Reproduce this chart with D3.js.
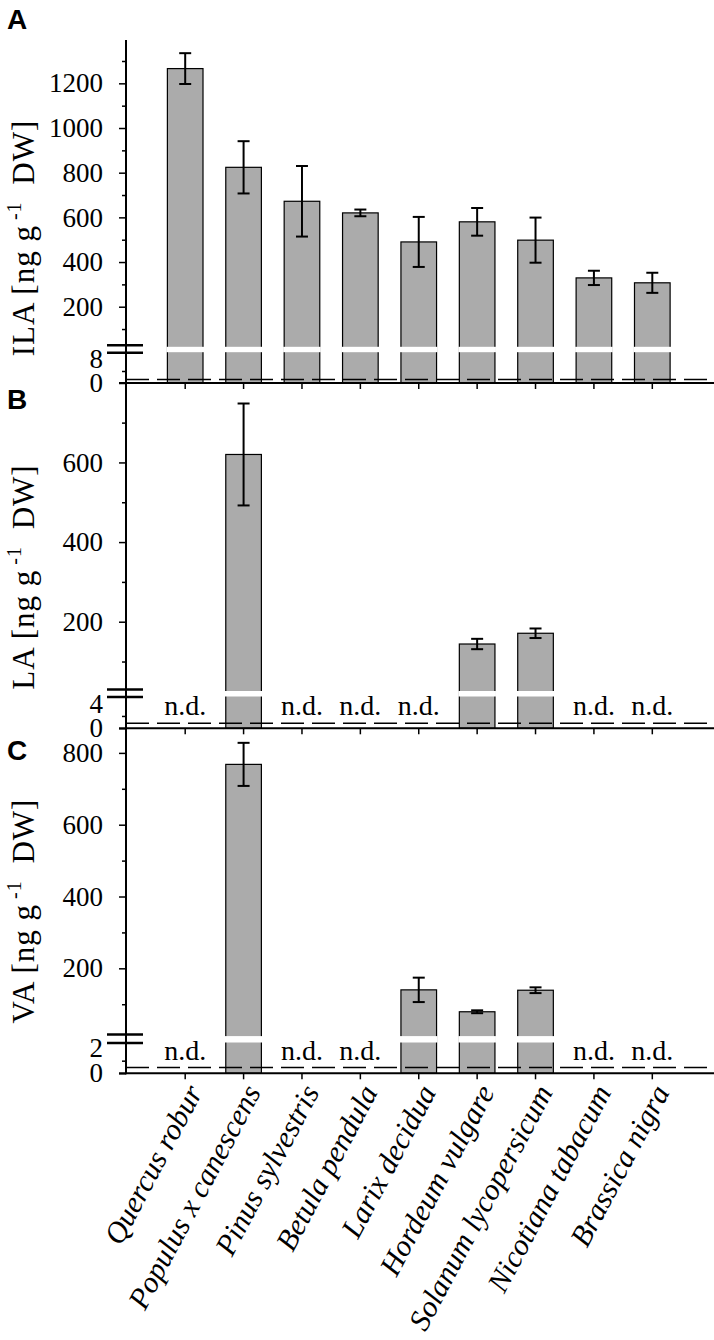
<!DOCTYPE html>
<html><head><meta charset="utf-8">
<script src="https://cdn.jsdelivr.net/npm/d3@7"></script>
<style>body{margin:0;background:#fff}svg{display:block}</style>
</head><body><svg id="c" width="714" height="1340"></svg>
<script>
// ---- data ----
const species = ["Quercus robur","Populus x canescens","Pinus sylvestris","Betula pendula","Larix decidua","Hordeum vulgare","Solanum lycopersicum","Nicotiana tabacum","Brassica nigra"];
const ilaMean = [1266, 824, 672, 620, 490, 580, 498, 329, 307];
const ilaErr  = [69, 117, 158, 15, 112, 62, 101, 32, 45];
const laMean  = [null, 620, null, null, null, 144, 171, null, null];
const laErr   = [null, 128, null, null, null, 13, 12, null, null];
const vaMean  = [null, 768, null, null, 140, 79, 139, null, null];
const vaErr   = [null, 60, null, null, 34, 4, 8, null, null];
const panelLetters = ["A","B","C"];
const compoundNames = ["ILA","LA","VA"];
const detectionLimits = [1.2, 0.8, 0.45];
const upperMajorTicks = [[200,400,600,800,1000,1200],[200,400,600],[200,400,600,800]];
const upperMinorTicks = [[100,300,500,700,900,1100,1300],[100,300,500,700],[100,300,500,700]];
const lowerLabelTicks = [[0,8],[0,4],[0,2]];
const lowerMinorTicks = [[4],[2],[1]];
const ndLabel = "n.d.";

// ---- layout ----
const panels = [
  {mean: ilaMean, err: ilaErr, upDom:[25,1394], upRange:[345.8,40], loDom:[0,10.1], loRange:[383,352.7], letterY:29, titleY:238},
  {mean: laMean, err: laErr, upDom:[28.5,800], upRange:[690,382.8], loDom:[0,5.07], loRange:[728.3,697], letterY:409, titleY:577},
  {mean: vaMean, err: vaErr, upDom:[14,871], upRange:[1035.1,727.4], loDom:[0,2.4], loRange:[1073.3,1043], letterY:760, titleY:911}
];
const AX = 126;
const serif = "'Liberation Serif','Times New Roman',serif";
const svg = d3.select("#c");

const x = d3.scaleBand().domain(species).range([156, 681.5]).paddingInner(0.39).paddingOuter(0.195);
const bw = x.bandwidth();

panels.forEach((p, pi) => {
  const up = d3.scaleLinear().domain(p.upDom).range(p.upRange);
  const lo = d3.scaleLinear().domain(p.loDom).range(p.loRange);
  const y0 = lo(0);
  const g = svg.append("g");
  const rows = species.map((s, i) => ({s, m: p.mean[i], e: p.err[i]}));

  // bars
  const bars = rows.filter(d => d.m != null);
  g.selectAll("rect.bar").data(bars).join("rect")
    .attr("x", d => x(d.s)).attr("width", bw)
    .attr("y", d => up(d.m)).attr("height", d => y0 - up(d.m))
    .attr("fill", "#ababab").attr("stroke", "#000").attr("stroke-width", 1.2);
  // break band in bars
  const bTop = p.upRange[0], bBot = p.loRange[1];
  g.selectAll("rect.brk").data(bars).join("rect")
    .attr("x", d => x(d.s) - 1).attr("width", bw + 2)
    .attr("y", bTop + 1).attr("height", bBot - bTop - 1.5)
    .attr("fill", "#fff");
  // error bars
  bars.forEach(d => {
    const cx = x(d.s) + bw / 2;
    const yt = up(d.m + d.e), yb = up(d.m - d.e);
    g.append("line").attr("x1", cx).attr("x2", cx).attr("y1", yt).attr("y2", yb).attr("stroke", "#000").attr("stroke-width", 2);
    [yt, yb].forEach(yy => g.append("line").attr("x1", cx - 6).attr("x2", cx + 6).attr("y1", yy).attr("y2", yy).attr("stroke", "#000").attr("stroke-width", 2));
  });
  // n.d.
  g.selectAll("text.nd").data(rows.filter(d => d.m == null)).join("text")
    .attr("x", d => x(d.s) + bw / 2).attr("y", y0 - 13)
    .attr("text-anchor", "middle").attr("font-family", serif).attr("font-size", 28)
    .text(ndLabel);
  // detection limit dashed line
  g.append("line").attr("x1", AX).attr("x2", 714).attr("y1", lo(detectionLimits[pi])).attr("y2", lo(detectionLimits[pi]))
    .attr("stroke", "#000").attr("stroke-width", 1.5).attr("stroke-dasharray", "23,8");

  // y axes (upper)
  const styleAxis = sel => {
    sel.select(".domain").remove();
    sel.selectAll(".tick line").attr("stroke", "#000").attr("stroke-width", 1.5);
    sel.selectAll(".tick text").attr("font-family", serif).attr("font-size", 27).attr("fill", "#000");
  };
  g.append("g").attr("transform", `translate(${AX},0)`)
    .call(d3.axisLeft(up).tickValues(upperMajorTicks[pi]).tickSize(7).tickPadding(16).tickFormat(d3.format("d")))
    .call(styleAxis);
  g.append("g").attr("transform", `translate(${AX},0)`)
    .call(d3.axisLeft(up).tickValues(upperMinorTicks[pi]).tickSize(4).tickFormat(""))
    .call(styleAxis);
  // lower axis: labels for both, tick only for zero
  const loAx = g.append("g").attr("transform", `translate(${AX},0)`)
    .call(d3.axisLeft(lo).tickValues(lowerLabelTicks[pi]).tickSize(7).tickPadding(16).tickFormat(d3.format("d")))
    .call(styleAxis);
  loAx.selectAll(".tick line").filter(d => d !== 0).remove();
  g.append("g").attr("transform", `translate(${AX},0)`)
    .call(d3.axisLeft(lo).tickValues(lowerMinorTicks[pi]).tickSize(4).tickFormat(""))
    .call(styleAxis);

  // horizontal zero axis
  g.append("line").attr("x1", AX - 7).attr("x2", 714).attr("y1", y0).attr("y2", y0).attr("stroke", "#000").attr("stroke-width", 2);
  g.append("g").attr("transform", `translate(0,${y0})`)
    .call(d3.axisBottom(x).tickSize(6).tickFormat(""))
    .call(sel => { sel.select(".domain").remove(); sel.selectAll(".tick line").attr("stroke", "#000").attr("stroke-width", 1.5); });

  // break marks
  [bTop - 0.5, bBot].forEach(yy => g.append("line").attr("x1", 107).attr("x2", 143).attr("y1", yy).attr("y2", yy).attr("stroke", "#000").attr("stroke-width", 2.5));

  // panel letter
  svg.append("text").attr("x", 7).attr("y", p.letterY).attr("font-family", "'Liberation Sans',Arial,sans-serif")
    .attr("font-weight", "bold").attr("font-size", 28).text(panelLetters[pi]);

  // y title
  const t = svg.append("text").attr("transform", `translate(34,${p.titleY}) rotate(-90)`)
    .attr("text-anchor", "middle").attr("font-family", serif).attr("font-size", 31).attr("letter-spacing", 1);
  t.append("tspan").text(compoundNames[pi] + " [ng g");
  t.append("tspan").attr("dx", 5).attr("dy", -13).attr("font-size", 20).text("-1");
  t.append("tspan").attr("dx", 8).attr("dy", 13).text(" DW]");
});

// vertical axis line
svg.append("line").attr("x1", AX).attr("x2", AX).attr("y1", 40).attr("y2", panels[2].loRange[0] + 1).attr("stroke", "#000").attr("stroke-width", 2);

// x labels
svg.append("g").selectAll("text").data(species).join("text")
  .attr("transform", d => `translate(${x(d) + bw / 2 + 18},1092) rotate(-62)`)
  .attr("text-anchor", "end").attr("font-family", serif).attr("font-style", "italic").attr("font-size", 30)
  .text(d => d);
</script></body></html>
